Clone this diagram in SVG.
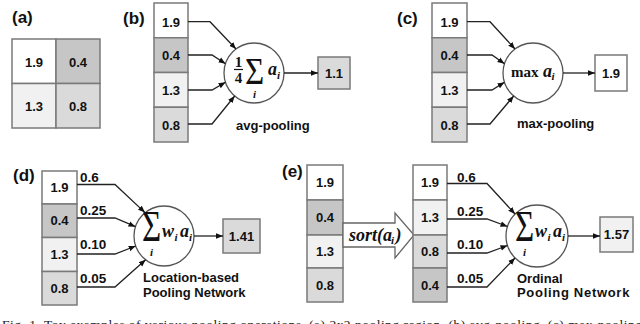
<svg xmlns="http://www.w3.org/2000/svg" width="640" height="324" viewBox="0 0 640 324">
<defs>
<marker id="ah" viewBox="0 0 10 10" refX="10" refY="5" markerWidth="7" markerHeight="7" markerUnits="userSpaceOnUse" orient="auto"><path d="M0,1 L10,5 L0,9 z" fill="#111"/></marker>
</defs>
<style>
.cell{stroke:#7a7a7a;stroke-width:1.5}
.w{fill:#ffffff}.d{fill:#c6c6c6}.l{fill:#f1f1f1}.m{fill:#dadada}
.v{font-family:"Liberation Sans",Arial,sans-serif;font-weight:bold;font-size:13px;fill:#111;text-anchor:middle}
.wt{font-family:"Liberation Sans",Arial,sans-serif;font-weight:bold;font-size:13.5px;fill:#111}
.lab{font-family:"Liberation Sans",Arial,sans-serif;font-weight:bold;font-size:17px;fill:#111}
.cap{font-family:"Liberation Sans",Arial,sans-serif;font-weight:bold;font-size:13px;fill:#111}
.circ{fill:#fff;stroke:#555;stroke-width:1.3}
.conn{fill:none;stroke:#222;stroke-width:1.3;marker-end:url(#ah)}
.sig{font-family:"Liberation Serif","Times New Roman",serif;font-size:33px;fill:#111}
.mi{font-family:"Liberation Serif","Times New Roman",serif;font-style:italic;font-weight:bold;font-size:18px;fill:#111}
.sub{font-family:"Liberation Serif","Times New Roman",serif;font-style:italic;font-weight:bold;font-size:11px;fill:#111}
.mr{font-family:"Liberation Serif","Times New Roman",serif;font-weight:bold;font-size:15px;fill:#111}
.fig{font-family:"Liberation Serif","Times New Roman",serif;font-size:13.5px;fill:#222}
</style>
<rect width="640" height="324" fill="#fff"/>

<!-- (a) -->
<g id="panel-a">
<text class="lab" x="12" y="23">(a)</text>
<rect class="cell w" x="12" y="39" width="44" height="44.5"/>
<rect class="cell d" x="56" y="39" width="44" height="44.5"/>
<rect class="cell l" x="12" y="83.5" width="44" height="44.5"/>
<rect class="cell m" x="56" y="83.5" width="44" height="44.5"/>
<text class="v" x="34" y="66.5">1.9</text>
<text class="v" x="78" y="66.5">0.4</text>
<text class="v" x="34" y="110.5">1.3</text>
<text class="v" x="78" y="110.5">0.8</text>
</g>

<!-- (b) -->
<g id="b-input">
<text class="lab" x="123" y="24">(b)</text>
<rect class="cell w" x="154" y="3" width="34" height="34.75"/>
<rect class="cell d" x="154" y="37.75" width="34" height="34.75"/>
<rect class="cell l" x="154" y="72.5" width="34" height="34.75"/>
<rect class="cell m" x="154" y="107.25" width="34" height="34.75"/>
<text class="v" x="171" y="27">1.9</text>
<text class="v" x="171" y="60">0.4</text>
<text class="v" x="171" y="95">1.3</text>
<text class="v" x="171" y="129.5">0.8</text>
</g>
<g id="b-node">
<circle class="circ" cx="254" cy="73" r="30"/>
<text class="mr" x="238.5" y="66.5" text-anchor="middle" font-size="14.5">1</text>
<line x1="234" y1="69.5" x2="243" y2="69.5" stroke="#111" stroke-width="1.2"/>
<text class="mr" x="238.5" y="82.5" text-anchor="middle" font-size="14.5">4</text>
<text class="sig" transform="translate(245,84) scale(1,1.17)">Σ</text>
<text class="sub" x="253" y="98">i</text>
<text class="mi" x="268" y="75">a</text>
<text class="sub" x="277" y="78.5">i</text>
<text class="cap" x="236" y="130">avg-pooling</text>
</g>
<g id="b-output">
<rect class="cell m" x="318" y="57" width="32" height="32"/>
<text class="v" x="334" y="78">1.1</text>
</g>

<!-- (c) -->
<g id="c-input">
<text class="lab" x="397" y="24">(c)</text>
<rect class="cell w" x="432" y="3" width="35" height="34.75"/>
<rect class="cell d" x="432" y="37.75" width="35" height="34.75"/>
<rect class="cell l" x="432" y="72.5" width="35" height="34.75"/>
<rect class="cell m" x="432" y="107.25" width="35" height="34.75"/>
<text class="v" x="449.5" y="27">1.9</text>
<text class="v" x="449.5" y="60">0.4</text>
<text class="v" x="449.5" y="95">1.3</text>
<text class="v" x="449.5" y="129.5">0.8</text>
</g>
<g id="c-node">
<circle class="circ" cx="533" cy="73" r="30"/>
<text class="mr" x="511" y="77">max</text>
<text class="mi" x="543" y="77" font-size="17">a</text>
<text class="sub" x="551.5" y="80">i</text>
<text class="cap" x="517" y="128">max-pooling</text>
</g>
<g id="c-output">
<rect class="cell w" x="595" y="55" width="32" height="36"/>
<text class="v" x="611" y="77.5">1.9</text>
</g>

<!-- (d) -->
<g id="d-input">
<text class="lab" x="13" y="181">(d)</text>
<rect class="cell w" x="42" y="171" width="35" height="33"/>
<rect class="cell d" x="42" y="204" width="35" height="33.5"/>
<rect class="cell l" x="42" y="237.5" width="35" height="34"/>
<rect class="cell m" x="42" y="271.5" width="35" height="33.5"/>
<text class="v" x="59.5" y="191.5">1.9</text>
<text class="v" x="59.5" y="225">0.4</text>
<text class="v" x="59.5" y="259">1.3</text>
<text class="v" x="59.5" y="293">0.8</text>
</g>
<g id="d-weights">
<text class="wt" x="80" y="181.5">0.6</text>
<text class="wt" x="80" y="215">0.25</text>
<text class="wt" x="80" y="249">0.10</text>
<text class="wt" x="80" y="283">0.05</text>
</g>
<g id="d-node">
<circle class="circ" cx="164" cy="236" r="30"/>
<text class="sig" font-size="27" transform="translate(142,241) scale(1,1.35)">Σ</text>
<text class="sub" x="150" y="256">i</text>
<text class="mi" x="162" y="237">w</text>
<text class="sub" x="174.5" y="240.5">i</text>
<text class="mi" x="180" y="237">a</text>
<text class="sub" x="189" y="240.5">i</text>
<text class="cap" x="143" y="282">Location-based</text>
<text class="cap" x="143" y="297">Pooling Network</text>
</g>
<g id="d-output">
<rect class="cell m" x="223" y="219" width="37" height="34"/>
<text class="v" x="241.5" y="241">1.41</text>
</g>

<!-- (e) -->
<g id="e-input">
<text class="lab" x="282" y="177">(e)</text>
<rect class="cell w" x="307" y="165" width="36" height="35"/>
<rect class="cell d" x="307" y="200" width="36" height="35"/>
<rect class="cell l" x="307" y="235" width="36" height="33"/>
<rect class="cell m" x="307" y="268" width="36" height="34"/>
<text class="v" x="325" y="187">1.9</text>
<text class="v" x="325" y="222">0.4</text>
<text class="v" x="325" y="256">1.3</text>
<text class="v" x="325" y="290">0.8</text>
</g>
<g id="e-sort">
<polygon points="343,223 395,223 395,213 414,235 395,258 395,247 343,247" fill="#fff" stroke="#666" stroke-width="1.3"/>
<text class="mi" x="349" y="240.5" font-size="17.5">sort(a</text>
<text class="sub" x="391" y="243.5">i</text>
<text class="mi" x="395.5" y="240.5" font-size="17.5">)</text>
</g>
<g id="e-sorted">
<rect class="cell w" x="413" y="165" width="34" height="35"/>
<rect class="cell l" x="413" y="200" width="34" height="35"/>
<rect class="cell m" x="413" y="235" width="34" height="33"/>
<rect class="cell d" x="413" y="268" width="34" height="34"/>
<text class="v" x="430" y="187">1.9</text>
<text class="v" x="430" y="222">1.3</text>
<text class="v" x="430" y="256">0.8</text>
<text class="v" x="430" y="290">0.4</text>
</g>
<g id="e-weights">
<text class="wt" x="457" y="181.5">0.6</text>
<text class="wt" x="457" y="215.5">0.25</text>
<text class="wt" x="457" y="249">0.10</text>
<text class="wt" x="457" y="283">0.05</text>
</g>
<g id="e-node">
<circle class="circ" cx="537" cy="236" r="31"/>
<text class="sig" font-size="27" transform="translate(515,241) scale(1,1.35)">Σ</text>
<text class="sub" x="523" y="256">i</text>
<text class="mi" x="535" y="237">w</text>
<text class="sub" x="547.5" y="240.5">i</text>
<text class="mi" x="553" y="237">a</text>
<text class="sub" x="562" y="240.5">i</text>
<text class="cap" x="517" y="283">Ordinal</text>
<text class="cap" x="517" y="297" letter-spacing="0.7">Pooling Network</text>
</g>
<g id="e-output">
<rect class="cell l" x="600" y="217" width="33" height="35"/>
<text class="v" x="616.5" y="239">1.57</text>
</g>

<!-- connectors -->
<g id="connectors">
<path class="conn" d="M188,21.7 H210 L236,49"/>
<path class="conn" d="M188,55 H212 L225.5,63.7"/>
<path class="conn" d="M188,90 H212 L225.5,82.3"/>
<path class="conn" d="M188,124 H212 L234.7,96"/>
<path class="conn" d="M284,73 H318"/>

<path class="conn" d="M467,21.7 H490 L515,49"/>
<path class="conn" d="M467,55 H492 L504.5,63.7"/>
<path class="conn" d="M467,90 H492 L504.5,82.3"/>
<path class="conn" d="M467,124 H490 L513.7,96"/>
<path class="conn" d="M563,73 H595"/>

<path class="conn" d="M77,184.5 H115 L145,212.6"/>
<path class="conn" d="M77,218 H115 L135.5,226.7"/>
<path class="conn" d="M77,254 H115 L135.7,246"/>
<path class="conn" d="M77,287 H115 L145.6,259.7"/>
<path class="conn" d="M194,236 H223"/>

<path class="conn" d="M447,183.5 H487 L515,214"/>
<path class="conn" d="M447,219 H487 L507.5,226.5"/>
<path class="conn" d="M447,253 H487 L507.5,245.5"/>
<path class="conn" d="M447,287 H487 L515,258"/>
<path class="conn" d="M568,236 H600"/>
</g>

<text class="fig" x="2" y="328.5" textLength="640" lengthAdjust="spacing">Fig. 1. Toy examples of various pooling operations. (a) 2x2 pooling region. (b) avg-pooling. (c) max-pooling</text>
</svg>
